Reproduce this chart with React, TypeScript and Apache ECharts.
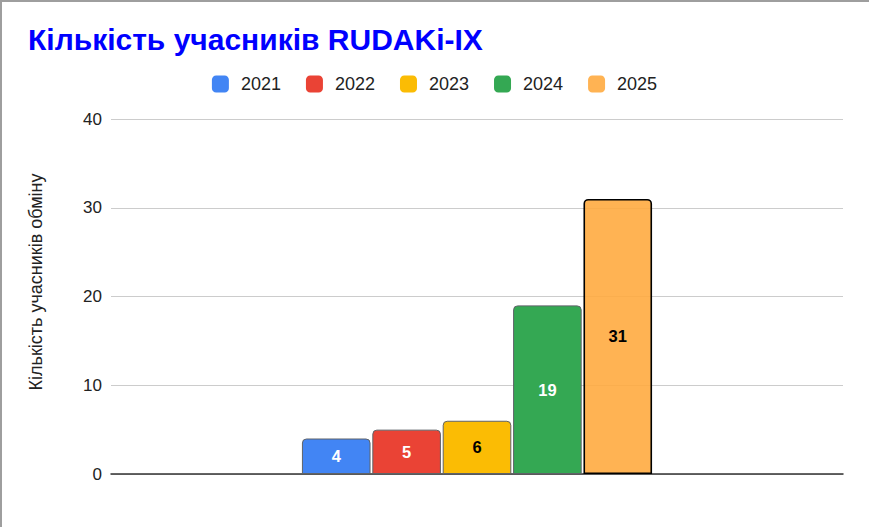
import React, { useEffect, useRef } from "react";
import * as echarts from "echarts";

const years = ["2021", "2022", "2023", "2024", "2025"];
const values = [4, 5, 6, 19, 31];
const colors = ["#4285f4", "#ea4335", "#fbbc04", "#34a853", "rgba(255,171,64,0.9)"];
const labelColors = ["#ffffff", "#ffffff", "#000000", "#ffffff", "#000000"];
const yTicks = { min: 0, max: 40, interval: 10 };
const titleText = "Кількість учасників RUDAKi-IX";
const yAxisName = "Кількість учасників обміну";

export default function App() {
  const ref = useRef<HTMLDivElement>(null);
  useEffect(() => {
    if (!ref.current) return;
    const chart = echarts.init(ref.current, null, { renderer: "svg" });
    const font = "Arial, 'Liberation Sans', sans-serif";
    const series = years.map((y, i) => ({
      name: y,
      type: "bar",
      data: [values[i]],
      barWidth: 68.6,
      barGap: "2.6%",
      itemStyle: {
        color: colors[i],
        borderColor: i === 4 ? "#000000" : "#5f6368",
        borderWidth: i === 4 ? 1.6 : 1,
        borderRadius: [4, 4, 0, 0],
      },
      label: {
        show: true,
        position: "inside",
        color: labelColors[i],
        fontWeight: "bold",
        fontSize: 16.5,
        fontFamily: font,
      },
    }));
    chart.setOption({
      animation: false,
      backgroundColor: "#ffffff",
      color: colors,
      title: {
        text: titleText,
        left: 23,
        top: 19,
        textStyle: { color: "#0000ff", fontSize: 30, fontWeight: "bold", fontFamily: font },
      },
      legend: {
        top: 70,
        left: "center",
        itemWidth: 17,
        itemHeight: 17,
        itemGap: 25,
        icon: "roundRect",
        itemStyle: { borderWidth: 0 },
        textStyle: { fontSize: 18, color: "#222222", fontFamily: font, padding: [0, 0, 0, 7] },
        data: years,
      },
      grid: { left: 111, right: 26, top: 119, bottom: 53 },
      xAxis: {
        type: "category",
        data: [""],
        axisTick: { show: false },
        axisLabel: { show: false },
        axisLine: { lineStyle: { color: "#333333", width: 1.5 } },
      },
      yAxis: {
        type: "value",
        min: yTicks.min,
        max: yTicks.max,
        interval: yTicks.interval,
        axisLine: { show: false },
        axisTick: { show: false },
        axisLabel: { fontSize: 17, color: "#222222", margin: 9, fontFamily: font },
        splitLine: { lineStyle: { color: "#cccccc", width: 1 } },
      },
      graphic: [
        {
          type: "text",
          x: 36,
          y: 282,
          rotation: Math.PI / 2,
          style: {
            text: yAxisName,
            fontSize: 18,
            fill: "#222222",
            fontFamily: font,
            textAlign: "center",
            textVerticalAlign: "middle",
          },
        },
        { type: "line", shape: { x1: 0, y1: 1, x2: 869, y2: 1 }, style: { stroke: "#9e9e9e", lineWidth: 2 } },
        { type: "line", shape: { x1: 1, y1: 0, x2: 1, y2: 527 }, style: { stroke: "#9e9e9e", lineWidth: 2 } },
      ],
      series,
    });
    return () => chart.dispose();
  }, []);
  return (
    <div
      ref={ref}
      style={{ position: "fixed", left: 0, top: 0, width: 869, height: 527 }}
    />
  );
}
